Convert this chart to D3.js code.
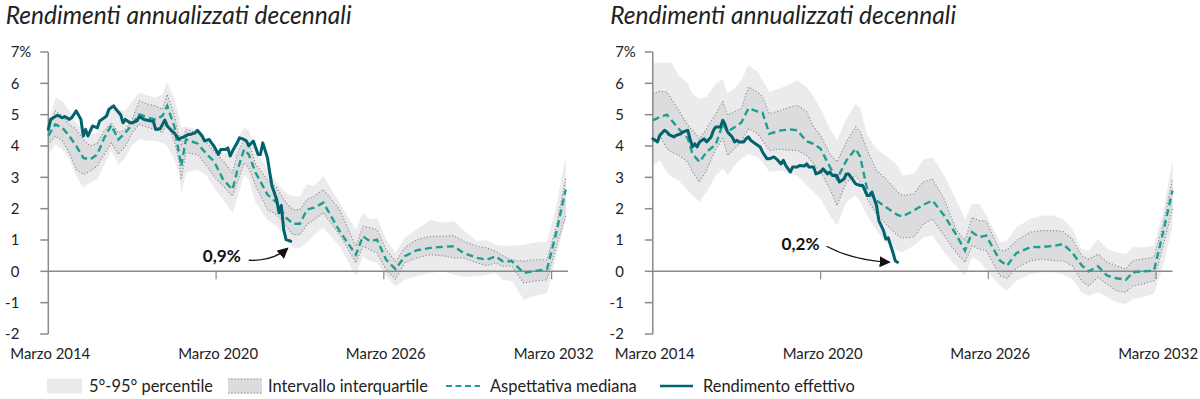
<!DOCTYPE html>
<html><head><meta charset="utf-8">
<script src="https://cdn.jsdelivr.net/npm/d3@7"></script>
<style>
html,body{margin:0;padding:0;background:#fff;}
svg{display:block;font-family:Lato,"Open Sans",sans-serif;}
</style></head>
<body><svg id="c" width="1200" height="399"></svg>
<script>
// ---- DATA ----
const startYear = 2014, startMonth = 2;          // Marzo 2014 (month index 2)
const lastMonth = 223;                            // months after Marzo 2014 at right end
const titles = ["Rendimenti annualizzati decennali", "Rendimenti annualizzati decennali"];
const yTicks = [-2, -1, 0, 1, 2, 3, 4, 5, 6, 7];
const xTickMonths = [0, 72, 144, 216];
const xTickLabels = ["Marzo 2014", "Marzo 2020", "Marzo 2026", "Marzo 2032"];
const annotationLabels = ["0,9%", "0,2%"];
const legendLabels = ["5°-95° percentile", "Intervallo interquartile", "Aspettativa mediana", "Rendimento effettivo"];

// Left panel – forecast distribution (months after Marzo 2014)
const fcMonthsL = [0,3,6,9,12,15,18,21,24,27,30,33,36,39,43,46,49,51,54,56,57,59,64,68,71,75,79,81,84,86,89,94,98,102,105,108,111,114,118,125,132,135,138,141,145,149,153,158,164,169,174,178,184,188,192,195,199,204,208,214,218,222];
const p5L  = [3.73,4.05,3.89,3.57,3.04,2.67,2.83,2.93,3.41,3.84,3.41,3.62,4.05,4.21,4.16,4.16,4.10,4.00,3.57,3.14,2.50,3.14,3.25,3.04,2.67,2.29,1.87,2.29,3.09,2.93,2.19,1.65,1.44,1.07,0.75,0.75,0.91,1.17,1.39,0.80,-0.16,0.48,0.32,0.27,-0.15,-0.48,-0.27,-0.16,-0.05,0.00,-0.11,-0.18,-0.16,-0.11,-0.05,-0.27,-0.32,-0.90,-0.80,-0.69,0.48,1.65];
const p25L = [4.05,4.32,4.16,3.78,3.25,3.09,3.20,3.36,3.73,4.10,3.73,4.00,4.42,4.69,4.58,4.53,4.42,4.74,4.16,3.57,2.93,3.78,3.73,3.36,3.04,2.72,2.40,2.83,3.46,3.30,2.72,1.97,1.81,1.44,1.17,1.17,1.49,1.65,1.87,1.17,0.27,0.80,0.69,0.59,0.05,-0.25,0.27,0.43,0.53,0.50,0.43,0.43,0.27,0.18,0.27,0.16,0.16,-0.37,-0.32,-0.27,0.80,1.76];
const medL = [4.32,4.69,4.58,4.32,4.00,3.62,3.57,3.73,4.26,4.66,4.21,4.42,4.69,5.01,4.90,4.85,4.96,5.28,4.64,3.78,3.36,4.21,4.08,3.73,3.52,2.93,2.61,3.20,3.89,3.73,3.14,2.45,2.19,1.71,1.52,1.52,1.97,2.03,2.19,1.28,0.53,1.12,0.96,1.01,0.37,0.07,0.48,0.67,0.75,0.78,0.80,0.59,0.43,0.37,0.48,0.32,0.32,-0.05,0.00,0.07,1.23,2.61];
const p75L = [4.53,5.12,4.96,4.69,4.53,4.21,4.00,4.10,4.48,4.74,4.42,4.53,4.85,5.44,5.33,5.28,5.17,5.65,5.01,4.32,4.00,4.53,4.42,4.10,3.84,3.52,3.14,3.73,4.21,4.10,3.41,2.93,2.67,2.19,1.97,1.97,2.29,2.40,2.61,1.97,0.80,1.44,1.39,1.33,0.69,0.32,0.75,1.01,1.12,1.12,1.14,0.96,0.80,0.75,0.64,0.50,0.37,0.32,0.37,0.37,1.44,2.98];
const p95L = [4.69,5.54,5.44,5.12,4.74,4.48,4.37,4.42,5.06,5.38,5.17,5.12,5.44,5.70,5.60,5.54,5.65,6.02,5.54,4.96,4.58,4.62,4.53,4.21,4.00,3.78,3.75,4.21,4.58,4.53,3.89,3.25,2.83,2.50,2.40,2.40,2.77,2.72,3.04,2.19,1.33,1.87,1.65,1.71,1.01,0.59,1.07,1.33,1.65,1.55,1.60,1.33,0.96,1.01,0.85,0.82,0.82,0.85,0.91,0.96,2.08,3.68];
// Left panel – realised return
const actMonthsL = [0,1,3,4,6,7,9,10,12,14,15,16,17,18,19,21,22,24,25,26,28,29,31,32,33,35,36,38,39,41,42,44,45,46,48,49,50,51,53,54,56,57,59,60,61,63,64,66,67,69,70,71,73,74,76,77,78,79,81,82,84,85,86,88,89,90,91,92,94,95,96,98,99,100,101,102,104];
const actL = [4.53,4.85,4.94,4.98,4.90,4.94,4.85,4.90,5.12,4.85,4.32,4.53,4.32,4.48,4.64,4.58,4.80,4.90,4.96,5.17,5.28,5.17,5.00,4.74,4.85,4.74,4.74,4.80,4.94,4.85,4.83,4.80,4.80,4.53,4.55,4.69,4.83,4.64,4.48,4.42,4.21,4.26,4.32,4.37,4.37,4.42,4.50,4.32,4.16,4.21,4.10,4.00,3.73,3.89,3.89,3.94,3.68,3.84,4.10,4.26,4.21,4.16,4.00,4.16,3.94,3.73,3.73,4.10,3.62,3.14,2.72,2.29,1.87,2.10,1.33,1.01,0.96];

// Right panel – forecast distribution
const fcMonthsR = [0,3,6,8,11,15,17,20,23,27,30,32,35,38,41,45,47,50,55,59,62,66,69,72,76,79,83,87,89,92,96,100,105,107,112,116,120,125,130,134,137,140,143,149,152,156,162,167,172,176,180,184,187,191,195,199,203,206,210,215,219,223];
const p5R  = [3.38,3.54,3.17,3.00,2.90,2.58,2.42,2.21,2.53,3.06,3.27,3.06,3.38,3.59,3.75,3.65,3.49,3.17,3.22,3.11,3.06,2.74,2.53,2.31,1.78,1.46,2.21,2.42,2.21,1.78,1.30,0.93,0.66,0.61,0.82,1.08,1.14,0.61,0.18,-0.14,0.45,0.34,0.05,-0.46,-0.62,-0.30,-0.09,-0.03,-0.03,-0.09,-0.25,-0.67,-0.78,-0.67,-0.83,-0.99,-1.04,-0.88,-0.83,-0.72,0.18,1.46];
const p25R = [4.13,4.34,3.91,3.80,3.70,3.49,3.17,2.85,3.22,3.91,4.23,3.70,3.91,4.13,4.55,4.39,4.18,3.86,3.90,3.86,3.86,3.70,3.43,3.17,2.63,2.10,2.85,3.06,2.85,2.31,1.83,1.51,1.14,1.06,1.09,1.50,1.67,1.14,0.61,0.29,0.82,0.71,0.66,-0.14,-0.22,0.10,0.34,0.39,0.34,0.34,0.18,-0.30,-0.46,-0.19,-0.41,-0.62,-0.67,-0.46,-0.41,-0.30,0.82,1.99];
const medR = [4.82,4.92,5.00,4.82,4.55,4.25,3.75,3.49,3.81,4.05,4.71,4.45,4.60,4.75,5.20,5.10,5.07,4.39,4.50,4.53,4.50,4.15,4.07,3.91,3.33,2.95,3.54,3.91,3.65,2.60,2.26,2.05,1.80,1.75,1.94,2.12,2.26,1.78,1.19,0.66,1.25,1.09,1.14,0.34,0.18,0.58,0.77,0.78,0.81,0.87,0.60,0.20,0.00,0.16,-0.14,-0.22,-0.27,-0.03,0.00,0.02,1.25,2.58];
const p75R = [5.67,5.75,5.72,5.50,5.14,4.66,4.50,4.23,4.55,5.03,5.41,4.98,5.09,5.20,5.88,5.72,5.57,5.03,5.14,5.25,5.30,5.09,4.61,4.34,3.75,3.49,4.13,4.61,4.45,3.86,3.22,2.95,2.53,2.42,2.47,2.85,2.95,2.31,1.35,0.98,1.73,1.62,1.60,0.66,0.68,0.98,1.25,1.30,1.30,1.27,1.03,0.50,0.39,0.55,0.29,0.18,0.07,0.34,0.39,0.45,1.51,2.95];
const p95R = [6.63,6.66,6.66,6.66,6.26,6.00,5.67,5.51,5.57,5.99,6.15,5.67,5.85,6.10,6.58,6.36,6.10,5.72,5.85,5.99,6.10,5.88,5.57,5.19,4.55,4.18,4.87,5.35,5.20,4.34,3.91,3.70,3.38,3.06,3.11,3.55,3.65,3.06,2.31,1.67,2.15,2.15,1.80,0.93,0.98,1.41,1.67,1.78,1.78,1.67,1.35,0.71,0.66,1.03,0.71,0.61,0.55,0.77,0.77,0.82,1.89,3.54];
// Right panel – realised return
const actMonthsR = [0,1,2,3,5,6,7,9,10,12,13,15,16,17,18,19,20,22,23,25,26,27,29,30,31,32,34,35,36,37,39,40,41,42,44,46,47,49,50,52,53,55,56,57,59,60,62,63,65,66,67,69,70,72,73,75,76,77,79,80,82,83,84,86,87,89,90,92,93,94,96,97,99,100,101,103,104,105];
const actR = [4.23,4.18,4.13,4.34,4.50,4.45,4.36,4.29,4.34,4.39,4.45,4.50,4.23,3.97,4.07,3.97,4.13,4.23,4.13,4.29,4.50,4.61,4.61,4.82,4.68,4.45,4.29,4.13,4.18,4.13,4.13,4.23,4.29,4.18,4.07,3.97,3.81,3.59,3.59,3.65,3.59,3.43,3.54,3.38,3.17,3.33,3.33,3.38,3.36,3.43,3.33,3.33,3.11,3.17,3.27,3.11,3.17,3.06,3.06,2.85,2.95,3.11,3.11,2.90,2.79,2.74,2.74,2.42,2.42,2.53,2.10,1.62,1.30,1.03,1.07,0.61,0.34,0.29];

// ---- STYLE ----
const C = { band:"#ebebed", iqr:"#dcdcde", dot:"#8c8c8c", med:"#1d9e93", act:"#00636e", axis:"#8a8a8a", text:"#222" };
const FONT = 'Lato, "Open Sans", sans-serif';

const svg = d3.select("#c");
// font sizes chosen so text widths match the reference
function fitSize(str, target, opts) {
  const t = svg.append("text").attr("font-family", FONT).attr("font-size", 20)
    .attr("font-style", opts && opts.italic ? "italic" : "normal")
    .attr("font-weight", opts && opts.bold ? "bold" : "normal").text(str);
  const w = t.node().getComputedTextLength(); t.remove();
  return 20 * target / w;
}
const titleSize = fitSize(titles[0], 346, {italic: true});
const axisSize = fitSize(xTickLabels[0], 80);
const legendSize = fitSize(legendLabels[3], 152);
const annotSize = fitSize(annotationLabels[0], 38, {bold: true});

const start = new Date(startYear, startMonth, 1);
const mDate = m => d3.timeMonth.offset(start, m);

const defs = svg.append("defs");
defs.append("marker").attr("id","ah").attr("viewBox","0 0 10 10").attr("refX",9).attr("refY",5)
  .attr("markerWidth",11).attr("markerHeight",11).attr("markerUnits","userSpaceOnUse").attr("orient","auto")
  .append("path").attr("d","M0,0L10,5L0,10Z").attr("fill","#111");

const y = d3.scaleLinear().domain([-2, 7]).range([334, 52]);

function panel(off, title, fcM, p5, p25, med, p75, p95, actM, act, annot, annotKind) {
  const x = d3.scaleTime().domain([mDate(0), mDate(lastMonth)]).range([48.3 + off, 568 + off]);
  const g = svg.append("g");
  const fc = fcM.map((m, i) => ({d: mDate(m), p5: p5[i], p25: p25[i], med: med[i], p75: p75[i], p95: p95[i]}));
  const ac = actM.map((m, i) => ({d: mDate(m), v: act[i]}));

  // title
  g.append("text").attr("x", x(mDate(0)) - 42.5).attr("y", 24)
    .attr("font-family", FONT).attr("font-style", "italic").attr("font-size", titleSize)
    .attr("fill", C.text).text(title);

  // bands
  g.append("path").datum(fc).attr("fill", C.band)
    .attr("d", d3.area().x(d => x(d.d)).y0(d => y(d.p5)).y1(d => y(d.p95)));
  g.append("path").datum(fc).attr("fill", C.iqr)
    .attr("d", d3.area().x(d => x(d.d)).y0(d => y(d.p25)).y1(d => y(d.p75)));
  ["p25", "p75"].forEach(k => {
    g.append("path").datum(fc).attr("fill", "none").attr("stroke", C.dot)
      .attr("stroke-width", 1.1).attr("stroke-dasharray", "1.2,2")
      .attr("d", d3.line().x(d => x(d.d)).y(d => y(d[k])));
  });

  // axes
  const x0 = x(mDate(0)), x1 = x(mDate(lastMonth));
  g.append("line").attr("x1", x0).attr("x2", x0).attr("y1", y(7)).attr("y2", y(-2))
    .attr("stroke", C.axis).attr("stroke-width", 1.5);
  g.append("line").attr("x1", x0).attr("x2", x1).attr("y1", y(0)).attr("y2", y(0))
    .attr("stroke", C.axis).attr("stroke-width", 1.5);
  yTicks.forEach(t => {
    g.append("line").attr("x1", x0 - 8).attr("x2", x0).attr("y1", y(t)).attr("y2", y(t))
      .attr("stroke", C.axis).attr("stroke-width", 1.5);
    g.append("text").attr("x", x0 - 29).attr("y", y(t)).attr("dy", "0.36em")
      .attr("text-anchor", "end").attr("font-family", FONT).attr("font-size", axisSize)
      .attr("fill", C.text).text(t);
    if (t === 7) g.append("text").attr("x", x0 - 29).attr("y", y(t)).attr("dy", "0.36em")
      .attr("font-family", FONT).attr("font-size", axisSize).attr("fill", C.text).text("%");
  });
  xTickMonths.forEach((m, i) => {
    const xt = x(mDate(m));
    if (i > 0) g.append("line").attr("x1", xt).attr("x2", xt).attr("y1", y(0)).attr("y2", y(0) + 8)
      .attr("stroke", C.axis).attr("stroke-width", 1.2);
    g.append("text").attr("x", xt + 2).attr("y", 358.5).attr("text-anchor", "middle")
      .attr("font-family", FONT).attr("font-size", axisSize).attr("fill", C.text).text(xTickLabels[i]);
  });

  // median & actual
  g.append("path").datum(fc).attr("fill", "none").attr("stroke", C.med).attr("stroke-width", 2.4)
    .attr("stroke-dasharray", "7,4").attr("d", d3.line().x(d => x(d.d)).y(d => y(d.med)));
  g.append("path").datum(ac).attr("fill", "none").attr("stroke", C.act).attr("stroke-width", 3)
    .attr("stroke-linejoin", "round").attr("stroke-linecap", "round")
    .attr("d", d3.line().x(d => x(d.d)).y(d => y(d.v)));

  // annotation tied to last actual point
  const last = ac[ac.length - 1];
  const lx = x(last.d), ly = y(last.v);
  if (annotKind === 0) {
    g.append("text").attr("x", lx - 50).attr("y", ly + 21).attr("text-anchor", "end")
      .attr("font-family", FONT).attr("font-weight", "bold").attr("font-size", annotSize).attr("fill", "#111").text(annot);
    g.append("path").attr("d", `M${lx-42},${ly+19} Q${lx-18},${ly+20} ${lx-3},${ly+7}`)
      .attr("fill", "none").attr("stroke", "#111").attr("stroke-width", 1.3).attr("marker-end", "url(#ah)");
  } else {
    g.append("text").attr("x", lx - 78).attr("y", ly - 12).attr("text-anchor", "end")
      .attr("font-family", FONT).attr("font-weight", "bold").attr("font-size", annotSize).attr("fill", "#111").text(annot);
    g.append("path").attr("d", `M${lx-71},${ly-16} Q${lx-45},${ly-2} ${lx-8},${ly}`)
      .attr("fill", "none").attr("stroke", "#111").attr("stroke-width", 1.3).attr("marker-end", "url(#ah)");
  }
}

panel(0, titles[0], fcMonthsL, p5L, p25L, medL, p75L, p95L, actMonthsL, actL, annotationLabels[0], 0);
panel(604.5, titles[1], fcMonthsR, p5R, p25R, medR, p75R, p95R, actMonthsR, actR, annotationLabels[1], 1);

// ---- LEGEND ----
const lg = svg.append("g").attr("font-family", FONT).attr("font-size", legendSize).attr("fill", C.text);
const ly0 = 386;
lg.append("rect").attr("x", 47).attr("y", ly0 - 7.5).attr("width", 35).attr("height", 15).attr("fill", C.band);
lg.append("text").attr("x", 89).attr("y", ly0 + 5.5).text(legendLabels[0]);
lg.append("rect").attr("x", 228).attr("y", ly0 - 7.5).attr("width", 34).attr("height", 15).attr("fill", C.iqr);
[ly0 - 7, ly0 + 7].forEach(yy => lg.append("line").attr("x1", 228).attr("x2", 262).attr("y1", yy).attr("y2", yy)
  .attr("stroke", C.dot).attr("stroke-width", 1).attr("stroke-dasharray", "1.2,2"));
lg.append("text").attr("x", 268).attr("y", ly0 + 5.5).text(legendLabels[1]);
lg.append("line").attr("x1", 446).attr("x2", 480).attr("y1", ly0).attr("y2", ly0)
  .attr("stroke", C.med).attr("stroke-width", 2.2).attr("stroke-dasharray", "6,3.5");
lg.append("text").attr("x", 490).attr("y", ly0 + 5.5).text(legendLabels[2]);
lg.append("line").attr("x1", 660).attr("x2", 693).attr("y1", ly0).attr("y2", ly0)
  .attr("stroke", C.act).attr("stroke-width", 2.6);
lg.append("text").attr("x", 703).attr("y", ly0 + 5.5).text(legendLabels[3]);
</script>
</body></html>
